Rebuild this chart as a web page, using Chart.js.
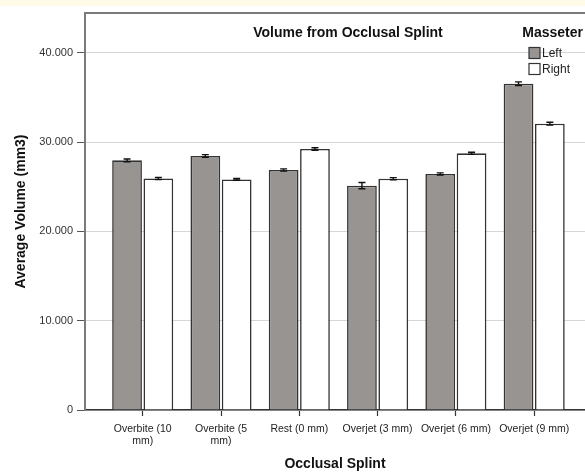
<!DOCTYPE html>
<html>
<head>
<meta charset="utf-8">
<script src="https://cdn.jsdelivr.net/npm/chart.js@4.4.1/dist/chart.umd.min.js"></script>
<style>
  html, body { margin: 0; padding: 0; background: #ffffff; }
  canvas { display: block; }
</style>
</head>
<body>
<canvas id="chart" width="585" height="475"></canvas>
<script>
// Occlusal splint positions and masseter volumes (mean and error)
const categories = ['Overbite (10 mm)', 'Overbite (5 mm)', 'Rest (0 mm)', 'Overjet (3 mm)', 'Overjet (6 mm)', 'Overjet (9 mm)'];
const leftValues = [27.95, 28.44, 26.87, 25.12, 26.43, 36.54];
const rightValues = [25.93, 25.82, 29.22, 25.90, 28.74, 32.06];
const leftErrors = [0.15, 0.15, 0.13, 0.35, 0.12, 0.20];
const rightErrors = [0.12, 0.10, 0.15, 0.12, 0.12, 0.15];
const yTickValues = [0, 10, 20, 30, 40];
const yTickLabels = ['0', '10.000', '20.000', '30.000', '40.000'];
const seriesNames = ['Left', 'Right'];

const FONT = "'Liberation Sans', Arial, Helvetica, sans-serif";
const LEFT_FILL = '#989492';
const RIGHT_FILL = '#ffffff';
const BAR_EDGE = '#333333';

function wrapLabel(text) {
  if (text.length < 15) return text;
  const cut = text.lastIndexOf(' ');
  return [text.slice(0, cut), text.slice(cut + 1)];
}

const errorsBySeries = [leftErrors, rightErrors];

const backgroundPlugin = {
  id: 'pageBackground',
  beforeDraw(chart) {
    const ctx = chart.ctx;
    ctx.save();
    ctx.fillStyle = '#ffffff';
    ctx.fillRect(0, 0, chart.width, chart.height);
    ctx.fillStyle = '#fffbe6';
    ctx.fillRect(0, 0, chart.width, 6);
    ctx.restore();
  }
};

const errorBarPlugin = {
  id: 'errorBars',
  afterDatasetsDraw(chart) {
    const ctx = chart.ctx;
    const y = chart.scales.y;
    ctx.save();
    ctx.strokeStyle = '#111111';
    ctx.lineWidth = 1.4;
    chart.data.datasets.forEach((ds, di) => {
      const meta = chart.getDatasetMeta(di);
      meta.data.forEach((bar, i) => {
        const v = ds.data[i].y;
        const e = errorsBySeries[di][i];
        const top = y.getPixelForValue(v + e);
        const bot = y.getPixelForValue(v - e);
        const cx = bar.x;
        const half = 3.5;
        ctx.beginPath();
        ctx.moveTo(cx, top); ctx.lineTo(cx, bot);
        ctx.moveTo(cx - half, top); ctx.lineTo(cx + half, top);
        ctx.moveTo(cx - half, bot); ctx.lineTo(cx + half, bot);
        ctx.stroke();
      });
    });
    ctx.restore();
  }
};

const framePlugin = {
  id: 'frameTitleLegend',
  afterDraw(chart) {
    const ctx = chart.ctx;
    const area = chart.chartArea;
    ctx.save();
    // top border of the plot frame
    ctx.strokeStyle = '#7a7a7a';
    ctx.lineWidth = 2;
    ctx.beginPath();
    ctx.moveTo(area.left - 1, area.top);
    ctx.lineTo(area.right, area.top);
    ctx.stroke();

    // chart title inside the frame
    ctx.fillStyle = '#111111';
    ctx.font = 'bold 14px ' + FONT;
    ctx.textAlign = 'center';
    ctx.textBaseline = 'middle';
    ctx.fillText('Volume from Occlusal Splint', 348, 33);

    // legend
    ctx.textAlign = 'right';
    ctx.fillText('Masseter', 583, 33);
    const fills = [LEFT_FILL, RIGHT_FILL];
    const rows = [53, 69];
    ctx.font = '12px ' + FONT;
    ctx.textAlign = 'left';
    seriesNames.forEach((name, i) => {
      ctx.fillStyle = fills[i];
      ctx.fillRect(529, rows[i] - 5.5, 11, 11);
      ctx.strokeStyle = BAR_EDGE;
      ctx.lineWidth = 1.2;
      ctx.strokeRect(529, rows[i] - 5.5, 11, 11);
      ctx.fillStyle = '#222222';
      ctx.fillText(name, 542, rows[i] + 1);
    });
    ctx.restore();
  }
};

const chart = new Chart(document.getElementById('chart'), {
  type: 'bar',
  data: {
    datasets: [
      {
        label: seriesNames[0],
        data: leftValues.map((v, i) => ({ x: i, y: v })),
        backgroundColor: LEFT_FILL,
        borderColor: BAR_EDGE,
        borderWidth: 1.6,
        borderSkipped: 'bottom'
      },
      {
        label: seriesNames[1],
        data: rightValues.map((v, i) => ({ x: i, y: v })),
        backgroundColor: RIGHT_FILL,
        borderColor: BAR_EDGE,
        borderWidth: 1.6,
        borderSkipped: 'bottom'
      }
    ]
  },
  options: {
    responsive: false,
    animation: false,
    categoryPercentage: 0.8,
    barPercentage: 0.95,
    layout: { padding: { top: 13, right: 0, bottom: 0, left: 0 } },
    plugins: {
      legend: { display: false },
      title: { display: false },
      tooltip: { enabled: false }
    },
    scales: {
      x: {
        type: 'linear',
        min: -0.737,
        max: 5.649,
        offset: false,
        afterFit(scale) { scale.height = 65; },
        ticks: {
          stepSize: 1,
          includeBounds: false,
          autoSkip: false,
          maxRotation: 0,
          minRotation: 0,
          padding: 7,
          color: '#222222',
          font: { family: FONT, size: 10.5, lineHeight: 1.15 },
          callback: (value) => (Number.isInteger(value) && categories[value] !== undefined) ? wrapLabel(categories[value]) : ''
        },
        grid: {
          offset: false,
          drawOnChartArea: false,
          drawTicks: true,
          tickLength: 6,
          tickColor: '#333333',
          tickWidth: 1.2
        },
        border: { display: true, color: '#333333', width: 1.5 },
        title: {
          display: true,
          text: 'Occlusal Splint',
          color: '#111111',
          font: { family: FONT, size: 14, weight: 'bold' },
          padding: { top: 2, bottom: 2 }
        }
      },
      y: {
        type: 'linear',
        min: 0,
        max: 44.45,
        afterFit(scale) { scale.width = 85; },
        ticks: {
          stepSize: 10,
          includeBounds: false,
          padding: 4,
          color: '#333333',
          font: { family: FONT, size: 11 },
          callback: (value) => {
            const k = yTickValues.indexOf(value);
            return k >= 0 ? yTickLabels[k] : '';
          }
        },
        grid: {
          color: '#d6d6d6',
          lineWidth: 1,
          drawTicks: true,
          tickLength: 8,
          tickColor: '#555555'
        },
        border: { display: true, color: '#7a7a7a', width: 2 },
        title: {
          display: true,
          text: 'Average Volume (mm3)',
          color: '#111111',
          font: { family: FONT, size: 14, weight: 'bold' },
          padding: { top: 13, bottom: 4 }
        }
      }
    }
  },
  plugins: [backgroundPlugin, errorBarPlugin, framePlugin]
});
</script>
</body>
</html>
